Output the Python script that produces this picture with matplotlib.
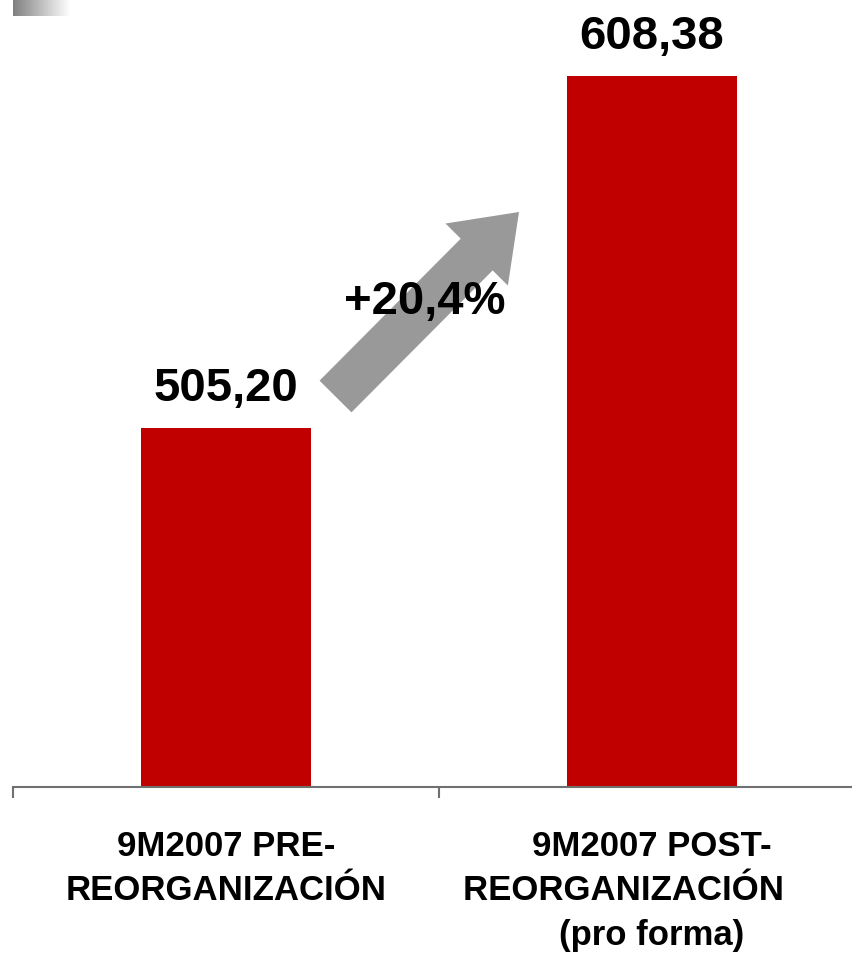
import matplotlib.pyplot as plt
import matplotlib.patches as mpatches
import matplotlib.transforms as mtransforms
import numpy as np

plt.rcParams['font.family'] = ['Liberation Sans', 'DejaVu Sans']

categories = ['9M2007 PRE-\nREORGANIZACIÓN',
              '9M2007 POST-\nREORGANIZACIÓN\u00a0\u00a0\u00a0\u00a0\u00a0\u00a0\n(pro forma)']
values = [505.20, 608.38]
value_labels = ['505,20', '608,38']
growth_label = '+20,4%'

W, H = 852, 954
fig = plt.figure(figsize=(W / 100, H / 100), dpi=100)
# pixel coords, origin top-left
px = mtransforms.Affine2D().scale(1 / 100, -1 / 100).translate(0, H / 100) + fig.dpi_scale_trans

# little gradient block top-left
gax = fig.add_axes([13 / W, 1 - 17 / H, 57 / W, 17 / H])
grad = np.linspace(0.5, 1.0, 256)[None, :]
gax.imshow(grad, cmap='gray', vmin=0, vmax=1, aspect='auto')
gax.axis('off')

ax = fig.add_axes([13 / W, (H - 788) / H, 852 / W, 750.5 / H])
x = np.arange(len(values)) + 0.5
ax.bar(x, values, width=0.40, color='#C00000', bottom=0)
ax.set_xlim(0, 2)
ax.set_ylim(400, 620)

for s in ['top', 'right', 'left']:
    ax.spines[s].set_visible(False)
ax.spines['bottom'].set_color('#707070')
ax.spines['bottom'].set_linewidth(1.5)
ax.set_yticks([])
ax.set_xticks([0, 1, 2])
ax.set_xticklabels([])
ax.tick_params(axis='x', which='major', length=8, width=1.5, color='#707070', direction='out')
ax.set_xticks(x, minor=True)
ax.set_xticklabels(categories, minor=True, fontsize=25, fontweight='bold', linespacing=1.45)
ax.tick_params(axis='x', which='minor', length=0, pad=30)

for xi, v, lab in zip(x, values, value_labels):
    ax.annotate(lab, (xi, v), xytext=(0, 18), textcoords='offset pixels',
                ha='center', va='bottom', fontsize=34, fontweight='bold')

# growth arrow
arrow = mpatches.FancyArrow(335.5, 397.5, 183.5, -184.5, width=45, head_width=88,
                            head_length=60, length_includes_head=True,
                            color='#999999', lw=0, transform=px)
fig.patches.append(arrow)
fig.text(425, 302, growth_label, transform=px, ha='center', va='center',
         fontsize=34, fontweight='bold')

fig.savefig('out.png', dpi=100)
